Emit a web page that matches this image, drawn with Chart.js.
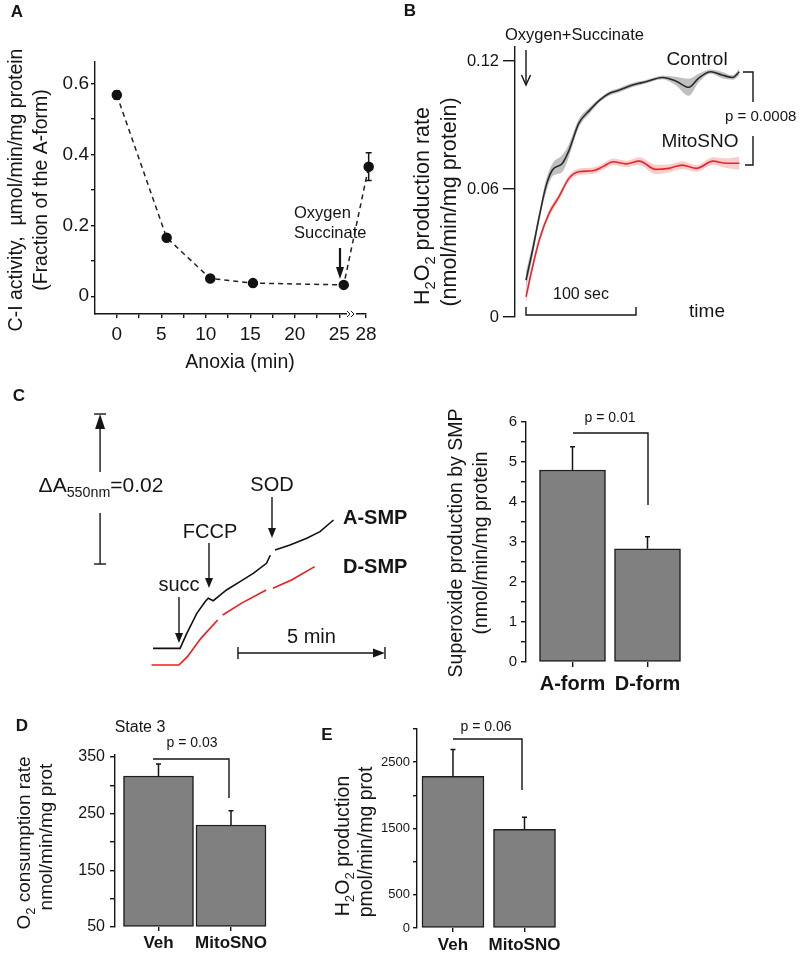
<!DOCTYPE html>
<html>
<head>
<meta charset="utf-8">
<script src="https://cdn.jsdelivr.net/npm/chart.js@4.4.1/dist/chart.umd.min.js"></script>
<style>
  html, body { margin: 0; padding: 0; background: #fff; }
  #page { position: relative; width: 800px; height: 956px; overflow: hidden; }
  #page canvas { position: absolute; left: 0; top: 0; }
</style>
</head>
<body>
<div id="page">
  <canvas id="chart-a" width="800" height="956"></canvas>
  <canvas id="chart-b" width="800" height="956"></canvas>
  <canvas id="chart-c-trace" width="800" height="956"></canvas>
  <canvas id="chart-c-bar" width="800" height="956"></canvas>
  <canvas id="chart-d" width="800" height="956"></canvas>
  <canvas id="chart-e" width="800" height="956"></canvas>
</div>
<script>
// ---------- Panel A: C-I activity during anoxia ----------
const anoxiaMin = [0, 5.6, 10.5, 15.3, 25.5, 28.3];
const ciActivity = [0.567, 0.165, 0.05, 0.037, 0.032, 0.365];
const ciActivityErr = [0.012, 0.006, 0.004, 0.003, 0.003, 0.039];
const anoxiaTicks = [0, 2.5, 5, 7.5, 10, 12.5, 15, 17.5, 20, 22.5, 25, 28];
const anoxiaTickLabels = ['0', '', '5', '', '10', '', '15', '', '20', '', '25', '28'];
const ciTicks = [0, 0.1, 0.2, 0.3, 0.4, 0.5, 0.6];
const ciTickLabels = ['0', '', '0.2', '', '0.4', '', '0.6'];

// ---------- Panel B: H2O2 production traces ----------
const ctrlTime = [0, 6, 12, 18, 24, 33, 39, 48, 58, 67, 76, 85, 97, 109, 124, 136, 148, 157, 168, 178, 188, 194];
const ctrlRate = [0.0173, 0.0314, 0.047, 0.061, 0.0689, 0.072, 0.078, 0.0908, 0.097, 0.1017, 0.1049, 0.1064,
                  0.1088, 0.1103, 0.1123, 0.1107, 0.1077, 0.112, 0.115, 0.1135, 0.1123, 0.115];
const ctrlSem = [0.004, 0.003, 0.002, 0.003, 0.003, 0.004, 0.003, 0.002, 0.0015, 0.001, 0.001, 0.001,
                 0.001, 0.0008, 0.0008, 0.002, 0.004, 0.002, 0.001, 0.0015, 0.001, 0.0015];
const snoTime = [0, 6, 12, 21, 30, 39, 48, 61, 70, 79, 91, 103, 118, 130, 142, 155, 170, 182, 194];
const snoRate = [0.0095, 0.0236, 0.036, 0.0486, 0.0564, 0.065, 0.0681, 0.0686, 0.0705, 0.0728, 0.0718, 0.0731,
                 0.0692, 0.0697, 0.0712, 0.0697, 0.0731, 0.0721, 0.0721];
const snoSem = [0.003, 0.002, 0.0015, 0.0015, 0.0015, 0.0015, 0.0015, 0.0015, 0.0015, 0.0015, 0.0015, 0.0018,
                0.0022, 0.0018, 0.0018, 0.0015, 0.0018, 0.0022, 0.003];
const rateTicks = [0, 0.06, 0.12];
const rateTickLabels = ['0', '0.06', '0.12'];
const scaleBarSec = [0, 100];

// ---------- Panel C: cytochrome c reduction traces (mA550) ----------
const aSmpTime = [0, 0.92, 1.15, 1.49, 1.77, 1.88, 2.05, 2.22, 2.5, 2.96, 3.41, 3.86, 3.99, 4.05, 4.15, 4.66, 5.23, 5.68, 6.14];
const aSmpSignal = [2.89, 2.89, 4.89, 7.56, 9.11, 9.56, 9.24, 9.78, 10.67, 11.78, 12.89, 14.22, 15.3, null, 16.0, 16.67, 17.56, 18.44, 20.0];
const dSmpTime = [-0.05, 0.88, 1.17, 1.63, 2.2, 2.28, 2.37, 3.0, 3.85, 3.96, 4.08, 4.71, 5.5];
const dSmpSignal = [0.67, 0.67, 1.78, 4.22, 6.67, null, 7.33, 8.89, 10.67, null, 10.89, 12.0, 13.78];
const fiveMinBar = [2.89, 7.89];

// ---------- Panel C: superoxide production bars ----------
const smpForms = ['A-form', 'D-form'];
const superoxide = [4.8, 2.83];
const superoxideErr = [0.58, 0.3];
const superoxideTicks = [0, 0.5, 1, 1.5, 2, 2.5, 3, 3.5, 4, 4.5, 5, 5.5, 6];
const superoxideTickLabels = ['0', '', '1', '', '2', '', '3', '', '4', '', '5', '', '6'];

// ---------- Panel D: O2 consumption ----------
const treatments = ['Veh', 'MitoSNO'];
const o2Rate = [316.5, 230];
const o2RateErr = [21, 25];
const o2Ticks = [50, 100, 150, 200, 250, 300, 350];
const o2TickLabels = ['50', '', '150', '', '250', '', '350'];

// ---------- Panel E: H2O2 production ----------
const h2o2Rate = [2286, 1489];
const h2o2RateErr = [406, 180];
const h2o2Ticks = [0, 500, 1000, 1500, 2000, 2500, 3000];
const h2o2TickLabels = ['0', '500', '', '1500', '', '2500', ''];

const PAGE_W = 800, PAGE_H = 956;
const FONT = '"Liberation Sans", Arial, Helvetica, sans-serif';
const INK = '#151515';
Chart.defaults.font.family = FONT;
Chart.defaults.color = INK;

function font(size, bold) {
    return (bold ? 'bold ' : '') + size + 'px ' + FONT;
}

/**
 * Plain text, centred vertically on y
 */
function text(ctx, str, x, y, size, o = {}) {
    ctx.save();
    ctx.font = font(size, o.bold);
    ctx.fillStyle = o.color || INK;
    ctx.textAlign = o.align || 'center';
    ctx.textBaseline = 'middle';
    ctx.fillText(str, x, y);
    ctx.restore();
}

/**
 * Text with subscripts, centred on (x, y), optionally rotated
 * parts: [[string, isSub], ...]
 */
function rich(ctx, parts, x, y, size, rotate, o = {}) {
    ctx.save();
    ctx.translate(x, y);
    if (rotate) ctx.rotate(rotate);
    ctx.fillStyle = INK;
    ctx.textBaseline = 'alphabetic';
    const subSize = size * 0.68;
    let total = 0;
    parts.forEach(p => {
        ctx.font = font(p[1] ? subSize : size, o.bold);
        total += ctx.measureText(p[0]).width;
    });
    let cx = o.align === 'left' ? 0 : -total / 2;
    parts.forEach(p => {
        ctx.font = font(p[1] ? subSize : size, o.bold);
        ctx.fillText(p[0], cx, size * 0.36 + (p[1] ? size * 0.28 : 0));
        cx += ctx.measureText(p[0]).width;
    });
    ctx.restore();
}

function lines(ctx, pts, w) {
    ctx.save();
    ctx.strokeStyle = INK;
    ctx.lineWidth = w || 1.4;
    ctx.beginPath();
    pts.forEach((p, i) => i ? ctx.lineTo(p[0], p[1]) : ctx.moveTo(p[0], p[1]));
    ctx.stroke();
    ctx.restore();
}

function arrow(ctx, x1, y1, x2, y2, o = {}) {
    const hl = o.head || 10, hw = o.headW || 4;
    const ang = Math.atan2(y2 - y1, x2 - x1);
    ctx.save();
    ctx.strokeStyle = ctx.fillStyle = INK;
    ctx.lineWidth = o.width || 1.4;
    const back = o.open ? 0 : hl * 0.8;
    ctx.beginPath();
    ctx.moveTo(x1, y1);
    ctx.lineTo(x2 - Math.cos(ang) * back, y2 - Math.sin(ang) * back);
    ctx.stroke();
    ctx.translate(x2, y2);
    ctx.rotate(ang);
    ctx.beginPath();
    ctx.moveTo(-hl, -hw);
    ctx.lineTo(0, 0);
    ctx.lineTo(-hl, hw);
    if (o.open) {
        ctx.stroke();
    } else {
        ctx.closePath();
        ctx.fill();
    }
    ctx.restore();
}

/**
 * Layout so that the chart area lands on the given page box
 */
function frame(area, yW, xH) {
    return {
        autoPadding: false,
        padding: {
            left: area.l - yW,
            top: area.t,
            right: PAGE_W - area.r,
            bottom: PAGE_H - area.b - xH
        }
    };
}

function yAxis(min, max, ticks, labels, size, yW, tl, pad) {
    return {
        min: min,
        max: max,
        afterFit: s => { s.width = yW; },
        afterBuildTicks: s => { s.ticks = ticks.map(v => ({ value: v })); },
        border: { display: true, color: INK, width: 1.4 },
        grid: { drawOnChartArea: false, drawTicks: true, tickLength: tl, color: INK, lineWidth: 1.4 },
        ticks: { autoSkip: false, color: INK, font: { size: size }, padding: pad, callback: (v, i) => labels[i] }
    };
}

function xBarAxis(min, max, labels, size, xH, tl, pad) {
    return {
        type: 'linear',
        min: min,
        max: max,
        offset: false,
        afterFit: s => { s.height = xH; },
        afterBuildTicks: s => { s.ticks = labels.map((l, i) => ({ value: i })); },
        border: { display: false },
        grid: { offset: false, drawOnChartArea: false, drawTicks: true, tickLength: tl, color: INK, lineWidth: 1.4 },
        ticks: { autoSkip: false, maxRotation: 0, color: INK, font: { size: size, weight: 'bold' }, padding: pad,
                 callback: (v, i) => labels[i] }
    };
}

function notes(fn) {
    return { id: 'notes', afterDraw: chart => fn(chart.ctx, chart) };
}

/**
 * Error bars drawn from the dataset values through the y scale
 */
function errorBars(values, errors, both, cap, before) {
    const draw = chart => {
        const ctx = chart.ctx;
        const meta = chart.getDatasetMeta(0);
        const ys = chart.scales.y;
        ctx.save();
        ctx.strokeStyle = INK;
        ctx.lineWidth = 1.5;
        errors.forEach((e, i) => {
            const x = meta.data[i].x;
            const top = ys.getPixelForValue(values[i] + e);
            const bot = both ? ys.getPixelForValue(values[i] - e) : ys.getPixelForValue(values[i]);
            ctx.beginPath();
            ctx.moveTo(x, bot);
            ctx.lineTo(x, top);
            ctx.moveTo(x - cap, top);
            ctx.lineTo(x + cap, top);
            if (both) {
                ctx.moveTo(x - cap, bot);
                ctx.lineTo(x + cap, bot);
            }
            ctx.stroke();
        });
        ctx.restore();
    };
    return before ? { id: 'errorBars', beforeDatasetsDraw: draw } : { id: 'errorBars', afterDatasetsDraw: draw };
}

const baseOptions = {
    responsive: false,
    animation: false,
    devicePixelRatio: 1,
    plugins: { legend: { display: false }, tooltip: { enabled: false } }
};

// ---------- A ----------
const areaA = { l: 95, t: 62, r: 366, b: 314 };
new Chart(document.getElementById('chart-a'), {
    type: 'line',
    data: {
        datasets: [{
            data: anoxiaMin.map((t, i) => ({ x: t, y: ciActivity[i] })),
            borderColor: '#222',
            borderWidth: 1.5,
            borderDash: [5, 4],
            pointRadius: 4.5,
            pointBackgroundColor: '#111',
            pointBorderColor: '#111',
            tension: 0,
            clip: false
        }]
    },
    options: {
        ...baseOptions,
        layout: frame(areaA, 60, 40),
        scales: {
            x: {
                type: 'linear', min: -2.45, max: 28,
                afterFit: s => { s.height = 40; },
                afterBuildTicks: s => { s.ticks = anoxiaTicks.map(v => ({ value: v })); },
                border: { display: true, color: INK, width: 1.4 },
                grid: { drawOnChartArea: false, tickLength: 4, color: INK, lineWidth: 1.4 },
                ticks: { autoSkip: false, maxRotation: 0, font: { size: 19 }, padding: 5,
                         callback: (v, i) => anoxiaTickLabels[i] }
            },
            y: yAxis(-0.05, 0.66, ciTicks, ciTickLabels, 19, 60, 4, 2)
        }
    },
    plugins: [
        errorBars(ciActivity, ciActivityErr, true, 3, true),
        notes((ctx, chart) => {
            text(ctx, 'A', 17, 12, 17, { bold: true });
            rich(ctx, [['C-I activity,  \u00b5mol/min/mg protein']], 15, 190, 19.5, -Math.PI / 2);
            rich(ctx, [['(Fraction of the A-form)']], 40, 190, 19.5, -Math.PI / 2);
            text(ctx, 'Anoxia (min)', 240, 363, 19.5);
            text(ctx, 'Oxygen', 294, 213, 16.5, { align: 'left' });
            text(ctx, 'Succinate', 294, 233, 16.5, { align: 'left' });
            arrow(ctx, 340, 248, 340, 279, { width: 2.2, head: 12, headW: 4 });
            // axis break marks
            const bx = chart.scales.x.getPixelForValue(26.2), by = chart.scales.x.top;
            ctx.save();
            ctx.fillStyle = '#fff';
            ctx.fillRect(bx - 3, by - 3, 9, 6);
            ctx.restore();
            lines(ctx, [[bx - 3, by - 3], [bx, by], [bx - 3, by + 3]], 1);
            lines(ctx, [[bx + 1, by - 3], [bx + 4, by], [bx + 1, by + 3]], 1);
        })
    ]
});

// ---------- B ----------
const areaB = { l: 515, t: 47, r: 746, b: 317 };
const band = (times, mean, sem, sign) => times.map((t, i) => ({ x: t, y: mean[i] + sign * sem[i] }));
const smooth = { pointRadius: 0, cubicInterpolationMode: 'monotone' };
new Chart(document.getElementById('chart-b'), {
    type: 'line',
    data: {
        datasets: [
            { ...smooth, data: ctrlTime.map((t, i) => ({ x: t, y: ctrlRate[i] })), borderColor: '#2a2a2a',
              borderWidth: 1.6, fill: false },
            { ...smooth, data: snoTime.map((t, i) => ({ x: t, y: snoRate[i] })), borderColor: '#e8262a',
              borderWidth: 1.6, fill: false },
            { ...smooth, data: band(ctrlTime, ctrlRate, ctrlSem, 1), borderColor: 'rgba(0,0,0,0)', borderWidth: 0,
              fill: false },
            { ...smooth, data: band(ctrlTime, ctrlRate, ctrlSem, -1), borderColor: 'rgba(0,0,0,0)', borderWidth: 0,
              fill: 2, backgroundColor: 'rgba(150,150,150,0.6)' },
            { ...smooth, data: band(snoTime, snoRate, snoSem, 1), borderColor: 'rgba(0,0,0,0)', borderWidth: 0,
              fill: false },
            { ...smooth, data: band(snoTime, snoRate, snoSem, -1), borderColor: 'rgba(0,0,0,0)', borderWidth: 0,
              fill: 4, backgroundColor: 'rgba(240,110,110,0.35)' }
        ]
    },
    options: {
        ...baseOptions,
        layout: frame(areaB, 60, 0),
        scales: {
            x: { type: 'linear', min: -10, max: 200, display: false },
            y: yAxis(0, 0.1266, rateTicks, rateTickLabels, 16.5, 60, 12, 4)
        }
    },
    plugins: [notes((ctx, chart) => {
        const xs = chart.scales.x;
        text(ctx, 'B', 410, 11, 17, { bold: true });
        text(ctx, 'Oxygen+Succinate', 505, 35, 16.5, { align: 'left' });
        arrow(ctx, 526, 50, 526, 85, { open: true, head: 10, headW: 4.5 });
        rich(ctx, [['H'], ['2', 1], ['O'], ['2', 1], [' production rate']], 421, 206, 21.5, -Math.PI / 2);
        rich(ctx, [['(nmol/min/mg protein)']], 448, 202, 21.5, -Math.PI / 2);
        text(ctx, 'Control', 697, 60, 19);
        text(ctx, 'MitoSNO', 700, 142, 19);
        lines(ctx, [[743, 72], [753, 72], [753, 102]]);
        lines(ctx, [[753, 136], [753, 165], [745, 165]]);
        text(ctx, 'p = 0.0008', 725, 117, 15, { align: 'left' });
        const x0 = xs.getPixelForValue(scaleBarSec[0]), x1 = xs.getPixelForValue(scaleBarSec[1]);
        lines(ctx, [[x0, 307], [x0, 315], [x1, 315], [x1, 307]]);
        text(ctx, '100 sec', (x0 + x1) / 2, 295, 16);
        text(ctx, 'time', 707, 312, 19);
    })]
});

// ---------- C traces ----------
const areaCT = { l: 150, t: 400, r: 390, b: 680 };
new Chart(document.getElementById('chart-c-trace'), {
    type: 'line',
    data: {
        datasets: [
            { data: aSmpTime.map((t, i) => ({ x: t, y: aSmpSignal[i] })), borderColor: '#111', borderWidth: 1.6,
              pointRadius: 0, tension: 0, spanGaps: false },
            { data: dSmpTime.map((t, i) => ({ x: t, y: dSmpSignal[i] })), borderColor: '#ee1c1c', borderWidth: 1.6,
              pointRadius: 0, tension: 0, spanGaps: false }
        ]
    },
    options: {
        ...baseOptions,
        layout: frame(areaCT, 0, 0),
        scales: {
            x: { type: 'linear', min: -0.102, max: 8.061, display: false },
            y: { min: -1.333, max: 36, display: false }
        }
    },
    plugins: [notes((ctx, chart) => {
        const xs = chart.scales.x, ys = chart.scales.y;
        text(ctx, 'C', 19, 396, 17, { bold: true });
        // absorbance scale bar: 0.02 = 20 mA
        const bx = xs.getPixelForValue(-1.8);
        const yTop = ys.getPixelForValue(34.13), yBot = ys.getPixelForValue(14.13);
        lines(ctx, [[bx - 6, yTop], [bx + 6, yTop]]);
        arrow(ctx, bx, 472, bx, yTop, { head: 15, headW: 5 });
        lines(ctx, [[bx, 513], [bx, yBot]]);
        lines(ctx, [[bx - 6, yBot], [bx + 6, yBot]]);
        rich(ctx, [['\u0394A'], ['550', 1], ['nm', 1], ['=0.02']], 101, 484, 21, 0);
        // additions
        text(ctx, 'succ', 179, 585, 20);
        arrow(ctx, 179, 597, 179, 643, { head: 10, headW: 4 });
        text(ctx, 'FCCP', 210, 532, 20);
        arrow(ctx, 209, 543, 209, 588, { head: 10, headW: 4 });
        text(ctx, 'SOD', 272, 485, 20);
        arrow(ctx, 272, 497, 272, 538, { head: 10, headW: 4 });
        text(ctx, 'A-SMP', 343, 518, 20, { bold: true, align: 'left' });
        text(ctx, 'D-SMP', 343, 567, 20, { bold: true, align: 'left' });
        // 5 min scale bar
        const t0 = xs.getPixelForValue(fiveMinBar[0]), t1 = xs.getPixelForValue(fiveMinBar[1]);
        const ty = ys.getPixelForValue(2.27);
        lines(ctx, [[t0, ty - 6], [t0, ty + 6]]);
        arrow(ctx, t0, ty, t1, ty, { head: 12, headW: 4.5 });
        lines(ctx, [[t1, ty - 6], [t1, ty + 6]]);
        text(ctx, '5 min', (t0 + t1) / 2, 637, 20);
    })]
});

// ---------- C bars ----------
const areaCB = { l: 526, t: 422, r: 700, b: 662 };
new Chart(document.getElementById('chart-c-bar'), {
    type: 'bar',
    data: {
        datasets: [{
            data: smpForms.map((f, i) => ({ x: i, y: superoxide[i] })),
            backgroundColor: '#808080',
            borderColor: '#1e1e1e',
            borderWidth: 1.5,
            borderSkipped: false,
            barThickness: 66
        }]
    },
    options: {
        ...baseOptions,
        layout: frame(areaCB, 60, 40),
        scales: {
            x: xBarAxis(-0.62, 1.7, smpForms, 20, 40, 5, 5),
            y: yAxis(0, 6, superoxideTicks, superoxideTickLabels, 15, 60, 5, 4)
        }
    },
    plugins: [
        errorBars(superoxide, superoxideErr, false, 2.5),
        notes((ctx, chart) => {
            rich(ctx, [['Superoxide production by SMP']], 455, 543, 19.5, -Math.PI / 2);
            rich(ctx, [['(nmol/min/mg protein']], 480, 543, 19.5, -Math.PI / 2);
            lines(ctx, [[573, 433], [648, 433], [648, 505]]);
            text(ctx, 'p = 0.01', 610, 418, 14);
        })
    ]
});

// ---------- D ----------
const areaD = { l: 115, t: 755, r: 290, b: 927 };
new Chart(document.getElementById('chart-d'), {
    type: 'bar',
    data: {
        datasets: [{
            data: treatments.map((f, i) => ({ x: i, y: o2Rate[i] })),
            backgroundColor: '#808080',
            borderColor: '#1e1e1e',
            borderWidth: 1.5,
            borderSkipped: false,
            barThickness: 70,
            base: 50
        }]
    },
    options: {
        ...baseOptions,
        layout: frame(areaD, 60, 30),
        scales: {
            x: xBarAxis(-0.6, 1.814, treatments, 17, 30, 4, 2),
            y: yAxis(50, 353.5, o2Ticks, o2TickLabels, 16, 60, 5, 5)
        }
    },
    plugins: [
        errorBars(o2Rate, o2RateErr, false, 2.5),
        notes((ctx, chart) => {
            text(ctx, 'D', 22, 726, 17, { bold: true });
            text(ctx, 'State 3', 140, 728, 16);
            text(ctx, 'p = 0.03', 192, 743, 14);
            lines(ctx, [[153, 759], [229, 759], [229, 798]]);
            rich(ctx, [['O'], ['2', 1], [' consumption rate']], 23, 843, 19, -Math.PI / 2);
            rich(ctx, [['nmol/min/mg prot']], 45, 837, 19, -Math.PI / 2);
        })
    ]
});

// ---------- E ----------
const areaE = { l: 417, t: 729, r: 580, b: 928 };
new Chart(document.getElementById('chart-e'), {
    type: 'bar',
    data: {
        datasets: [{
            data: treatments.map((f, i) => ({ x: i, y: h2o2Rate[i] })),
            backgroundColor: '#808080',
            borderColor: '#1e1e1e',
            borderWidth: 1.5,
            borderSkipped: false,
            barThickness: 62
        }]
    },
    options: {
        ...baseOptions,
        layout: frame(areaE, 60, 28),
        scales: {
            x: xBarAxis(-0.503, 1.776, treatments, 17, 28, 4, 3),
            y: yAxis(0, 3000, h2o2Ticks, h2o2TickLabels, 13, 60, 4, 3)
        }
    },
    plugins: [
        errorBars(h2o2Rate, h2o2RateErr, false, 2.5),
        notes((ctx, chart) => {
            text(ctx, 'E', 327, 735, 17, { bold: true });
            text(ctx, 'p = 0.06', 486, 727, 14);
            lines(ctx, [[453, 739], [522, 739], [522, 790]]);
            rich(ctx, [['H'], ['2', 1], ['O'], ['2', 1], [' production']], 342, 846, 19.5, -Math.PI / 2);
            rich(ctx, [['pmol/min/mg prot']], 365, 842, 19.5, -Math.PI / 2);
        })
    ]
});
</script>
</body>
</html>
